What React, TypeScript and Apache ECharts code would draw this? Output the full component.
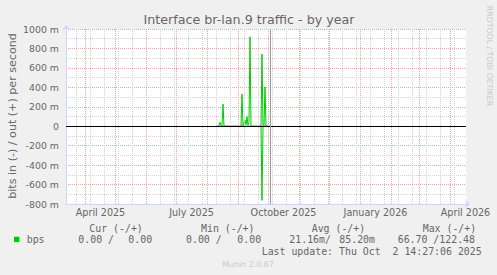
import React, { useEffect, useRef } from 'react';
import * as echarts from 'echarts';

const DAY = 86400000;
const axisStart = '2025-03-12T12:00:00Z';
const axisDays = 400;

const yMin = -800;
const yMax = 1000;
const yStep = 200;

const monthStarts = [
  '2025-04-01', '2025-05-01', '2025-06-01', '2025-07-01', '2025-08-01', '2025-09-01',
  '2025-10-01', '2025-11-01', '2025-12-01', '2026-01-01', '2026-02-01', '2026-03-01', '2026-04-01',
];
const biweeklyLines = [
  '2025-03-23', '2025-04-06', '2025-04-20', '2025-05-04', '2025-05-18', '2025-06-01',
  '2025-06-15', '2025-06-29', '2025-07-13', '2025-07-27', '2025-08-10', '2025-08-24',
  '2025-09-07', '2025-09-21', '2025-10-05', '2025-10-19', '2025-11-02', '2025-11-16',
  '2025-11-30', '2025-12-14', '2025-12-28', '2026-01-11', '2026-01-25', '2026-02-08',
  '2026-02-22', '2026-03-08', '2026-03-22', '2026-04-05',
];
const quarterLabelDates = ['2025-04-16', '2025-07-16', '2025-10-16', '2026-01-16', '2026-04-16'];
const quarterLabels = ['April 2025', 'July 2025', 'October 2025', 'January 2026', 'April 2026'];

// daily averages, milli-bits per second
const trafficDates = [
  '2025-08-10', '2025-08-11', '2025-08-12', '2025-08-13', '2025-08-14', '2025-08-15', '2025-08-16',
  '2025-08-17', '2025-08-18', '2025-08-19', '2025-08-20', '2025-08-21', '2025-08-22', '2025-08-23',
  '2025-08-24', '2025-08-25', '2025-08-26', '2025-08-27', '2025-08-28', '2025-08-29', '2025-08-30',
  '2025-08-31', '2025-09-01', '2025-09-02', '2025-09-03', '2025-09-04', '2025-09-05', '2025-09-06',
  '2025-09-07', '2025-09-08', '2025-09-09', '2025-09-10', '2025-09-11', '2025-09-12', '2025-09-13',
  '2025-09-14', '2025-09-15', '2025-09-16', '2025-09-17', '2025-09-18', '2025-09-19', '2025-09-20',
  '2025-09-21', '2025-09-22', '2025-09-23', '2025-09-24', '2025-09-25', '2025-09-26', '2025-09-27',
  '2025-09-28', '2025-09-29', '2025-09-30', '2025-10-01', '2025-10-02',
];
const outMilliBps = [
  0, 0, 10, 40, 5, 0, 227,
  0, 0, 0, 0, 0, 0, 0,
  0, 0, 0, 0, 0, 0, 0,
  0, 0, 0, 0, 330, 0, 30,
  60, 15, 100, 10, 40, 920, 0,
  0, 0, 0, 0, 0, 0, 0,
  0, 0, 0, 742, 0, 0, 405,
  0, 0, 0, 0, 0,
];
const inMilliBps = [
  0, 0, 0, 0, 0, 0, 0,
  0, 0, 0, 0, 0, 0, 0,
  0, 0, 0, 0, 0, 0, 0,
  0, 0, 0, 0, 0, 0, 0,
  0, 0, 0, 0, 0, 0, 0,
  0, 0, 0, 0, 0, 0, 0,
  0, 0, 0, 763, 0, 0, 0,
  0, 0, 0, 0, 0,
];
const lastUpdate = '2025-10-02T14:27:06Z';

const title = 'Interface br-lan.9 traffic - by year';
const yAxisTitle = 'bits in (-) / out (+) per second';
const legendHeaders = ['Cur (-/+)', 'Min (-/+)', 'Avg (-/+)', 'Max (-/+)'];
const legendSeriesName = 'bps';
const legendValues = ['0.00 /', '0.00', '0.00 /', '0.00', '21.16m/', '85.20m', '66.70 /122.48'];
const lastUpdateText = 'Last update: Thu Oct  2 14:27:06 2025';
const watermark = 'RRDTOOL / TOBI OETIKER';
const footer = 'Munin 2.0.67';

const FONT = '#666666';
const GREEN = '#00cc00';
const SANS = '"DejaVu Sans", sans-serif';
const MONO = '"DejaVu Sans Mono", monospace';

const ts = (d: string) => Date.parse(d.length === 10 ? d + 'T00:00:00Z' : d);
const tsNoon = (d: string) => Date.parse(d + 'T12:00:00Z');

export default function App() {
  const ref = useRef<HTMLDivElement>(null);
  useEffect(() => {
    document.body.style.margin = '0';
    document.body.style.background = '#f0f0f0';
    const chart = echarts.init(ref.current!, null, { renderer: 'svg' });
    const xMin = ts(axisStart);
    const xMax = xMin + axisDays * DAY;
    const labelVals = quarterLabelDates.map(ts);

    const legendHeaderX = [89.3, 201, 311.7, 422.7];
    const legendValueX = [78.3, 128.3, 186, 237.3, 289.3, 339.3, 397.7];

    const txt = (text: string, x: number, y: number, size: number, family: string, fill: string, align = 'left', extra: any = {}) => ({
      type: 'text',
      x,
      y,
      silent: true,
      ...extra,
      style: { text, x: 0, y: 0, fill, fontSize: size, fontFamily: family, align, verticalAlign: 'middle' },
    });

    const option: any = {
      animation: false,
      backgroundColor: '#f0f0f0',
      grid: {
        left: 66,
        right: 31,
        top: 29,
        bottom: 71,
        show: true,
        backgroundColor: '#ffffff',
        borderWidth: 0,
      },
      xAxis: {
        type: 'value',
        min: xMin,
        max: xMax,
        axisLine: {
          show: true,
          onZero: false,
          lineStyle: { color: '#CFD6F8', width: 1 },
          symbol: ['none', 'arrow'],
          symbolSize: [6, 5],
          symbolOffset: [0, 4],
        },
        axisTick: { show: false },
        splitLine: { show: false },
        axisLabel: {
          customValues: labelVals,
          formatter: (v: number) => {
            const i = labelVals.findIndex((t) => Math.abs(t - v) < DAY / 2);
            return i >= 0 ? quarterLabels[i] : '';
          },
          color: FONT,
          fontSize: 9.6,
          fontFamily: SANS,
          margin: 3,
        },
      },
      yAxis: {
        type: 'value',
        min: yMin,
        max: yMax,
        interval: yStep,
        axisLine: {
          show: true,
          lineStyle: { color: '#CFD6F8', width: 1 },
          symbol: ['none', 'arrow'],
          symbolSize: [6, 5],
          symbolOffset: [0, 4],
        },
        axisTick: { show: false },
        axisLabel: {
          formatter: (v: number) => (v === 0 ? '0' : `${v} m`),
          color: FONT,
          fontSize: 9.4,
          fontFamily: SANS,
          margin: 7,
        },
        splitLine: { show: true, lineStyle: { color: '#eca4a4', type: [1, 1], width: 1 } },
        minorTick: { show: false, splitNumber: 2 },
        minorSplitLine: { show: true, lineStyle: { color: '#d2d2d2', type: [1, 1], width: 1 } },
      },
      series: [
        {
          type: 'line',
          z: 1,
          data: [[xMin, 0]],
          showSymbol: false,
          lineStyle: { opacity: 0 },
          silent: true,
          markLine: {
            silent: true,
            symbol: ['none', 'none'],
            label: { show: false },
            emphasis: { disabled: true },
            data: [
              ...biweeklyLines.map((d) => ({ xAxis: ts(d), lineStyle: { color: '#d2d2d2', type: [1, 1], width: 1 } })),
              ...monthStarts.map((d) => ({ xAxis: ts(d), lineStyle: { color: '#eca4a4', type: [1, 1], width: 1 } })),
            ],
          },
        },
        {
          name: 'out',
          type: 'line',
          z: 3,
          showSymbol: false,
          silent: true,
          data: trafficDates.map((d, i) => [tsNoon(d), outMilliBps[i]]),
          lineStyle: { color: GREEN, width: 1 },
          itemStyle: { color: GREEN },
        },
        {
          name: 'in',
          type: 'line',
          z: 3,
          showSymbol: false,
          silent: true,
          data: trafficDates.map((d, i) => [tsNoon(d), -inMilliBps[i]]),
          lineStyle: { color: GREEN, width: 1 },
          itemStyle: { color: GREEN },
        },
        {
          type: 'line',
          z: 5,
          data: [[xMin, 0]],
          showSymbol: false,
          lineStyle: { opacity: 0 },
          silent: true,
          markLine: {
            silent: true,
            symbol: ['none', 'none'],
            label: { show: false },
            emphasis: { disabled: true },
            data: [
              { yAxis: 0, lineStyle: { color: '#000000', type: 'solid', width: 1 } },
              { xAxis: ts(lastUpdate), lineStyle: { color: '#999999', type: 'solid', width: 1 } },
            ],
          },
        },
      ],
      graphic: [
        txt(title, 249, 19.5, 12.7, SANS, FONT, 'center'),
        txt(yAxisTitle, 12, 116, 11.1, SANS, FONT, 'center', { rotation: Math.PI / 2 }),
        txt(watermark, 489, 56, 7.8, SANS, '#c8c8c8', 'center', { rotation: -Math.PI / 2 }),
        ...legendHeaders.map((h, i) => txt(h, legendHeaderX[i], 228, 9.9, MONO, FONT)),
        {
          type: 'rect',
          silent: true,
          shape: { x: 14, y: 236.7, width: 5.4, height: 5.4 },
          style: { fill: GREEN },
        },
        txt(legendSeriesName, 26.7, 239.5, 9.9, MONO, FONT),
        ...legendValues.map((v, i) => txt(v, legendValueX[i], 239.5, 9.9, MONO, FONT)),
        txt(lastUpdateText, 261.7, 251, 9.9, MONO, FONT),
        txt(footer, 248, 264, 7.9, SANS, '#c8c8c8', 'center'),
      ],
    };
    chart.setOption(option);
    return () => chart.dispose();
  }, []);
  return <div ref={ref} style={{ width: 497, height: 275, background: '#f0f0f0' }} />;
}
